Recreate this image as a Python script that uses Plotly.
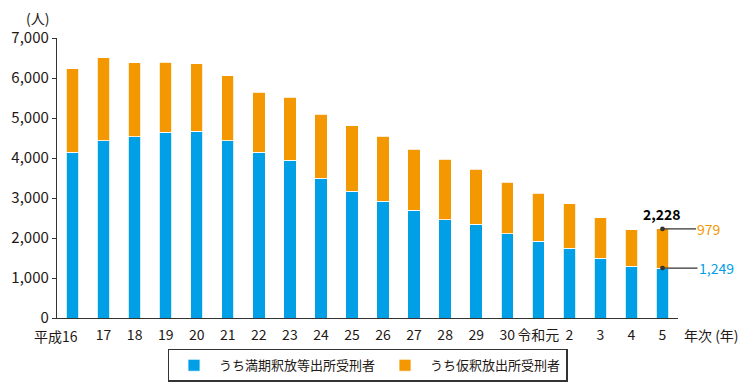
import plotly.graph_objects as go

categories = ["平成16", "17", "18", "19", "20", "21", "22", "23", "24", "25", "26",
              "27", "28", "29", "30", "令和元", "2", "3", "4", "5"]
tick_labels = ["平成16", "17", "18", "19", "20", "21", "22", "23", "24", "25", "26",
               "27", "28", "29", "30", "令和元", "2", "3", "4", "5"]
totals = [6235, 6510, 6385, 6400, 6360, 6060, 5650, 5525, 5093, 4810, 4550,
          4218, 3975, 3718, 3393, 3118, 2860, 2510, 2210, 2228]
manki = [4150, 4435, 4535, 4643, 4668, 4435, 4143, 3943, 3493, 3168, 2925,
         2693, 2460, 2350, 2110, 1925, 1750, 1493, 1293, 1249]
karishaku = [t - m for t, m in zip(totals, manki)]
karishaku[-1] = 979

BLUE = "#009FE6"
ORANGE = "#F39800"
TXT = "#231815"
FONT = "Noto Sans CJK JP"

fig = go.Figure()
fig.add_trace(go.Bar(x=categories, y=manki, name="うち満期釈放等出所受刑者",
                     marker=dict(color=BLUE, line=dict(color="white", width=0.8)),
                     width=0.4))
fig.add_trace(go.Bar(x=categories, y=karishaku, name="うち仮釈放出所受刑者",
                     marker=dict(color=ORANGE, line=dict(color="white", width=0.8)),
                     width=0.4))

last_i = len(categories) - 1
fig.add_annotation(x=last_i, y=totals[-1], text=f"<b>{totals[-1]:,}</b>", showarrow=False,
                   yanchor="bottom", yshift=3, font=dict(size=14, color="#000"))
fig.add_annotation(x=last_i, y=totals[-1], text=f"{karishaku[-1]:,}", showarrow=True,
                   ax=47, ay=0, arrowhead=6, arrowsize=1, arrowwidth=1.2,
                   arrowcolor="#333", standoff=0, startstandoff=0,
                   font=dict(size=14, color=ORANGE))
fig.add_annotation(x=last_i, y=manki[-1], text=f"{manki[-1]:,}", showarrow=True,
                   ax=54, ay=0, arrowhead=6, arrowsize=1, arrowwidth=1.2,
                   arrowcolor="#333", standoff=0, startstandoff=0,
                   font=dict(size=14, color=BLUE))

# first category label is right-aligned under its bar (like the reference)
shown_ticks = [""] + tick_labels[1:]
fig.add_annotation(x=0, y=0, yref="y", text=tick_labels[0], showarrow=False,
                   xanchor="right", yanchor="middle", xshift=7, yshift=-18,
                   font=dict(size=14, color=TXT))
fig.add_annotation(x=0, xref="paper", y=1, yref="paper", text="(人)", showarrow=False,
                   xanchor="right", yanchor="middle", xshift=-6, yshift=20,
                   font=dict(size=14, color=TXT))
fig.add_annotation(x=1, xref="paper", y=0, yref="paper", text="年次 (年)", showarrow=False,
                   xanchor="left", yanchor="middle", xshift=4, yshift=-17,
                   font=dict(size=14, color=TXT))

# page body has an 8px default margin, so the figure is sized to fit the window
fig.update_layout(
    barmode="stack",
    width=742, height=383,
    margin=dict(l=49, r=72, t=30, b=73, autoexpand=False),
    paper_bgcolor="white", plot_bgcolor="white",
    font=dict(family=FONT, size=13, color=TXT),
    showlegend=True,
    legend=dict(orientation="h", x=0.5, xanchor="center", y=-0.11, yanchor="top",
                bordercolor="#333", borderwidth=1.5, font=dict(size=13, color=TXT),
                itemwidth=40, traceorder="normal"),
    xaxis=dict(type="category", tickmode="array", tickvals=categories, ticktext=shown_ticks,
               tickangle=0, showline=True, linecolor="#333", linewidth=1.3,
               ticks="", ticklabelstandoff=4, showgrid=False, range=[-0.5, 19.5],
               automargin=False, tickfont=dict(size=14, color=TXT)),
    yaxis=dict(range=[0, 7000], tickvals=[0, 1000, 2000, 3000, 4000, 5000, 6000, 7000],
               tickformat=",", showline=True, linecolor="#333", linewidth=1.3,
               ticks="outside", ticklen=4, tickcolor="#333", showgrid=False,
               zeroline=False, automargin=False, tickfont=dict(size=15, color=TXT)),
)

fig.write_html("out.html")
